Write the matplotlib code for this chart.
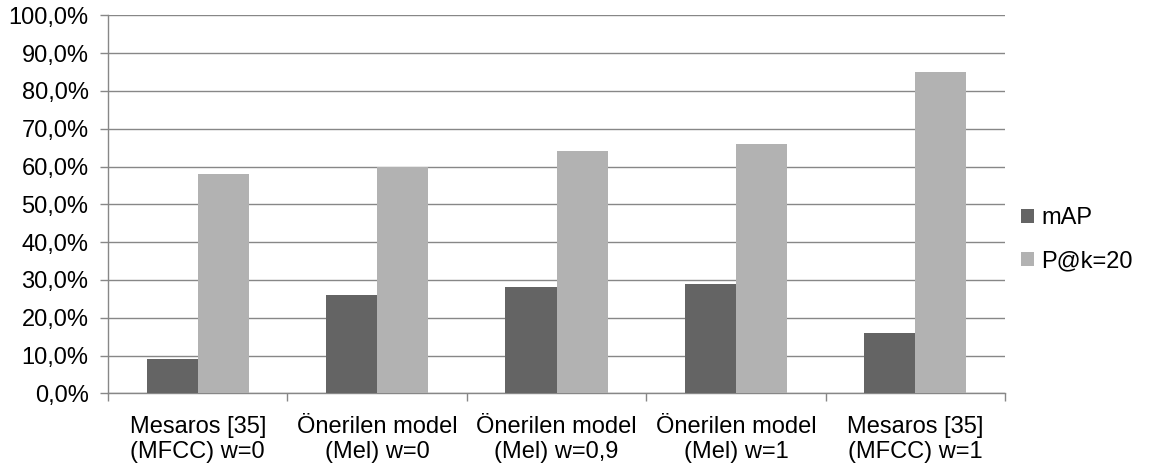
import matplotlib
matplotlib.use("Agg")
import matplotlib.pyplot as plt
from matplotlib.ticker import FuncFormatter, FixedLocator
import numpy as np

plt.rcParams['font.family'] = ['Liberation Sans', 'DejaVu Sans']

categories = ["Mesaros [35]\n(MFCC) w=0", "Önerilen model\n(Mel) w=0",
              "Önerilen model\n(Mel) w=0,9", "Önerilen model\n(Mel) w=1",
              "Mesaros [35]\n(MFCC) w=1"]
series_names = ["mAP", "P@k=20"]
map_values = [9, 26, 28, 29, 16]
pk_values = [58, 60, 64, 66, 85]
series_colors = ["#646464", "#b2b2b2"]

W, H = 1158, 466
FS = 17
fig = plt.figure(figsize=(W / 100, H / 100), dpi=100)
ax = fig.add_axes([108 / W, (H - 393.3) / H, (1005 - 108) / W, (393.3 - 15.3) / H])

x = np.arange(len(categories))
bw = 0.285
ax.bar(x - bw / 2, map_values, width=bw, color=series_colors[0], label=series_names[0], zorder=3)
ax.bar(x + bw / 2, pk_values, width=bw, color=series_colors[1], label=series_names[1], zorder=3)

ax.set_xlim(-0.5, len(categories) - 0.5)
ax.set_ylim(0, 100)
grid_c = "#878787"
ax.yaxis.set_major_locator(FixedLocator(np.arange(0, 101, 10)))
ax.yaxis.set_major_formatter(FuncFormatter(lambda v, p: f"{v:.1f}%".replace(".", ",")))
ax.grid(axis='y', color=grid_c, linewidth=1.0, zorder=0)
ax.set_axisbelow(True)

for s in ['top', 'right']:
    ax.spines[s].set_visible(False)
for s in ['left', 'bottom']:
    ax.spines[s].set_color(grid_c)
    ax.spines[s].set_linewidth(1.0)

ax.set_xticks(x)
ax.set_xticklabels(categories, fontsize=FS, linespacing=1.22)
ax.xaxis.set_minor_locator(FixedLocator(np.arange(-0.5, len(categories), 1.0)))
ax.tick_params(axis='x', which='major', length=0, pad=16)
ax.tick_params(axis='x', which='minor', length=6, color=grid_c, width=1.0)
ax.tick_params(axis='y', length=6, color=grid_c, width=1.0, labelsize=FS, pad=8)

leg = fig.legend(loc='upper left', bbox_to_anchor=(1021 / W, (H - 207) / H),
                 frameon=False, fontsize=FS, handlelength=0.55, handleheight=0.55,
                 handletextpad=0.3, labelspacing=0.9, borderaxespad=0, borderpad=0)

fig.savefig("out.png", dpi=100, facecolor="white")
